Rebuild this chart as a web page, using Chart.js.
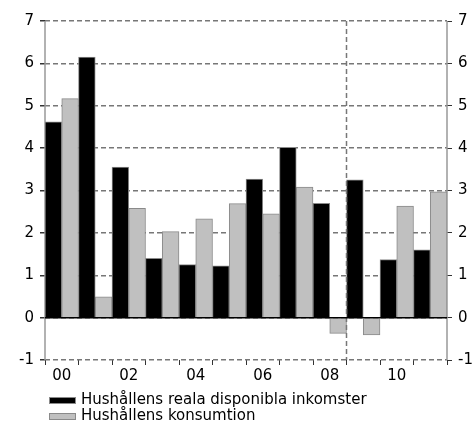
<!DOCTYPE html>
<html>
<head>
<meta charset="utf-8">
<script src="https://cdn.jsdelivr.net/npm/chart.js@4"></script>
<style>
  html, body { margin: 0; padding: 0; background: #fff; }
  #wrap { width: 472px; height: 426px; position: relative; }
</style>
</head>
<body>
<div id="wrap"><canvas id="chart"></canvas></div>
<script>
// years 2000-2011, only even years get a label
const years = ['00', '01', '02', '03', '04', '05', '06', '07', '08', '09', '10', '11'];
const inkomster = [4.62, 6.15, 3.55, 1.40, 1.25, 1.22, 3.27, 4.02, 2.70, 3.25, 1.37, 1.60];
const konsumtion = [5.17, 0.49, 2.58, 2.03, 2.33, 2.69, 2.45, 3.08, -0.37, -0.41, 2.63, 2.97];
const yTicks = [-1, 0, 1, 2, 3, 4, 5, 6, 7];
const seriesNames = ['Hushållens reala disponibla inkomster', 'Hushållens konsumtion'];

const FONT = '"DejaVu Sans", Verdana, sans-serif';
const gridGray = '#777';
const axisGray = '#999';

// axis lines, zero line, divider and the stacked legend below the chart
const extras = {
    id: 'extras',
    beforeDatasetsDraw(chart) {
        const { ctx, chartArea } = chart;
        ctx.save();
        ctx.strokeStyle = axisGray;
        ctx.lineWidth = 1.5;
        ctx.beginPath();
        ctx.moveTo(chartArea.left, chartArea.top);
        ctx.lineTo(chartArea.left, chartArea.bottom);
        ctx.moveTo(chartArea.right, chartArea.top);
        ctx.lineTo(chartArea.right, chartArea.bottom);
        ctx.stroke();
        ctx.restore();
    },
    afterDatasetsDraw(chart) {
        const { ctx, chartArea, scales } = chart;
        const x = scales.x, y = scales.y;
        ctx.save();
        // dashed divider between 08 and 09
        const xd = (x.getPixelForValue(8) + x.getPixelForValue(9)) / 2;
        ctx.strokeStyle = gridGray;
        ctx.lineWidth = 1.5;
        ctx.setLineDash([5, 3]);
        ctx.beginPath();
        ctx.moveTo(xd, chartArea.top);
        ctx.lineTo(xd, chartArea.bottom);
        ctx.stroke();
        // zero line
        ctx.setLineDash([]);
        ctx.strokeStyle = '#000';
        ctx.lineWidth = 1.5;
        const y0 = y.getPixelForValue(0);
        ctx.beginPath();
        ctx.moveTo(chartArea.left, y0);
        ctx.lineTo(chartArea.right, y0);
        ctx.stroke();
        ctx.restore();
    },
    afterDraw(chart) {
        const { ctx } = chart;
        ctx.save();
        ctx.font = '15px ' + FONT;
        ctx.textBaseline = 'middle';
        chart.data.datasets.forEach((ds, i) => {
            const top = 397 + i * 16;
            ctx.fillStyle = ds.backgroundColor;
            ctx.fillRect(49, top, 27, 7);
            ctx.strokeStyle = ds.borderColor;
            ctx.lineWidth = 1;
            ctx.strokeRect(49.5, top + 0.5, 26, 6);
            ctx.fillStyle = '#000';
            ctx.fillText(ds.label, 81, top + 3.5);
        });
        ctx.restore();
    }
};

new Chart(document.getElementById('chart'), {
    type: 'bar',
    data: {
        labels: years,
        datasets: [{
            label: seriesNames[0],
            data: inkomster,
            backgroundColor: '#000000',
            borderColor: '#8a8a8a',
            borderWidth: 1,
            categoryPercentage: 1.0,
            barPercentage: 1.0
        }, {
            label: seriesNames[1],
            data: konsumtion,
            backgroundColor: '#c0c0c0',
            borderColor: '#8a8a8a',
            borderWidth: 1,
            categoryPercentage: 1.0,
            barPercentage: 1.0
        }]
    },
    options: {
        responsive: true,
        maintainAspectRatio: false,
        animation: false,
        layout: { padding: { top: 21, bottom: 40, left: 0, right: 0 } },
        plugins: {
            legend: { display: false },
            tooltip: { enabled: false }
        },
        scales: {
            x: {
                grid: { display: true, drawOnChartArea: false, offset: true, tickLength: 5, color: '#333', lineWidth: 1 },
                border: { display: false },
                ticks: {
                    color: '#000',
                    font: { family: FONT, size: 15 },
                    maxRotation: 0,
                    autoSkip: false,
                    padding: 2,
                    callback: (v, i) => (i % 2 === 0 ? years[i] : '')
                },
                afterFit: s => { s.height = 26; }
            },
            y: {
                position: 'left',
                min: -1,
                max: 7,
                afterBuildTicks: s => { s.ticks = yTicks.map(v => ({ value: v })); },
                grid: {
                    color: gridGray,
                    lineWidth: 1.5,
                    tickLength: 5,
                    tickColor: '#333'
                },
                border: { display: false, dash: [5, 3] },
                ticks: { color: '#000', font: { family: FONT, size: 15 }, padding: 6 },
                afterFit: s => { s.width = 45; }
            },
            y2: {
                position: 'right',
                min: -1,
                max: 7,
                afterBuildTicks: s => { s.ticks = yTicks.map(v => ({ value: v })); },
                grid: { drawOnChartArea: false, tickLength: 5, color: '#333' },
                border: { display: false },
                ticks: { color: '#000', font: { family: FONT, size: 15 }, padding: 6 },
                afterFit: s => { s.width = 25; }
            }
        }
    },
    plugins: [extras]
});
</script>
</body>
</html>
